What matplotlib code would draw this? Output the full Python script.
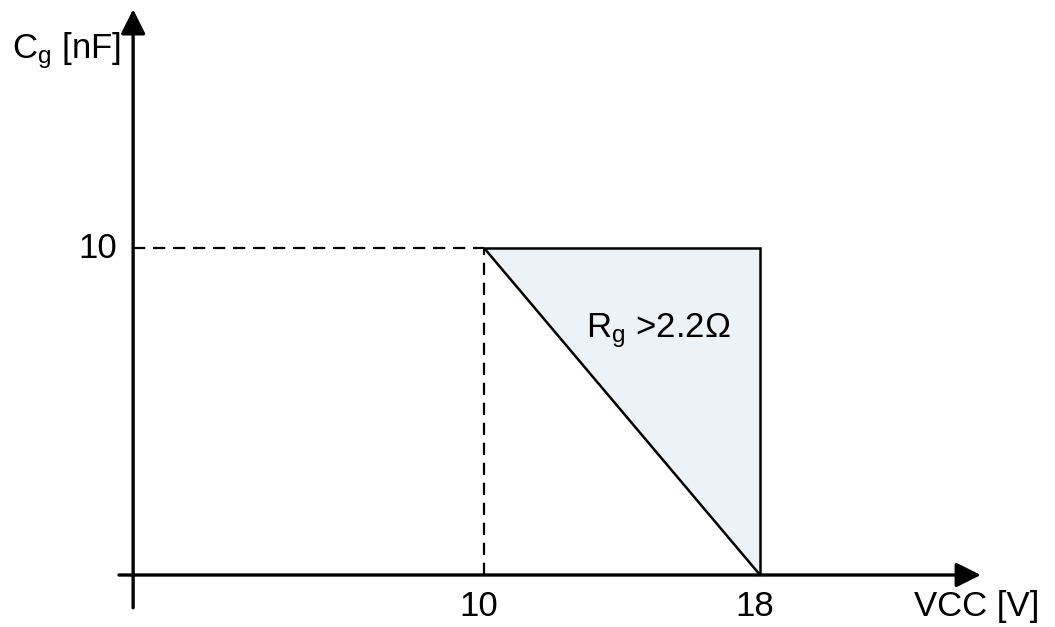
import matplotlib.pyplot as plt
from matplotlib.patches import Polygon

plt.rcParams['font.family'] = ['Liberation Sans', 'DejaVu Sans']
plt.rcParams['mathtext.default'] = 'regular'

# operating region corners (VCC [V], Cg [nF])
region_vcc = [10, 18, 18]
region_cg = [10, 10, 0]
x_ticks = [10, 18]
y_ticks = [10]
corner = (10, 10)

fig = plt.figure(figsize=(10.55, 6.27), dpi=100)
ax = fig.add_axes([0, 0, 1, 1])
# pixel mapping: 34.5 px per V, 32.7 px per nF
ax.set_xlim(-139 / 34.5, (1055 - 139) / 34.5)
ax.set_ylim(-(627 - 575) / 32.7, 575 / 32.7)
ax.axis('off')

# shaded region
tri = Polygon(list(zip(region_vcc, region_cg)), closed=True,
              facecolor='#edf2f7', edgecolor='black', lw=1.8, zorder=2)
ax.add_patch(tri)

# dashed guides
ax.plot([-0.17, corner[0]], [corner[1], corner[1]], color='black', lw=1.6,
        dashes=(5.5, 3.5), zorder=1)
ax.plot([corner[0], corner[0]], [0, corner[1]], color='black', lw=1.6,
        dashes=(5.5, 3.5), zorder=1)

# axes with arrows
arrow = dict(arrowstyle='-|>,head_length=0.6,head_width=0.3', lw=2.4,
             color='black', shrinkA=0, shrinkB=0, mutation_scale=25)
ax.annotate('', xy=(-0.17, 17.3), xytext=(-0.17, -1.0), arrowprops=arrow)
ax.annotate('', xy=(24.4, 0), xytext=(-0.58, 0), arrowprops=arrow)

fs = 25
for t in x_ticks:
    ax.text(t - 0.15, -0.95, str(t), ha='center', va='center', fontsize=fs)
for t in y_ticks:
    ax.text(-0.64, t, str(t), ha='right', va='center', fontsize=fs)

ax.text(-3.68, 15.8, r'$C_g$ [nF]', ha='left', va='baseline', fontsize=fs)
ax.text(26.1, -0.95, 'VCC [V]', ha='right', va='center', fontsize=fs)
ax.text(12.95, 7.28, r'$R_g$ >2.2Ω', ha='left', va='baseline', fontsize=fs)

fig.savefig('out.png', dpi=100)
